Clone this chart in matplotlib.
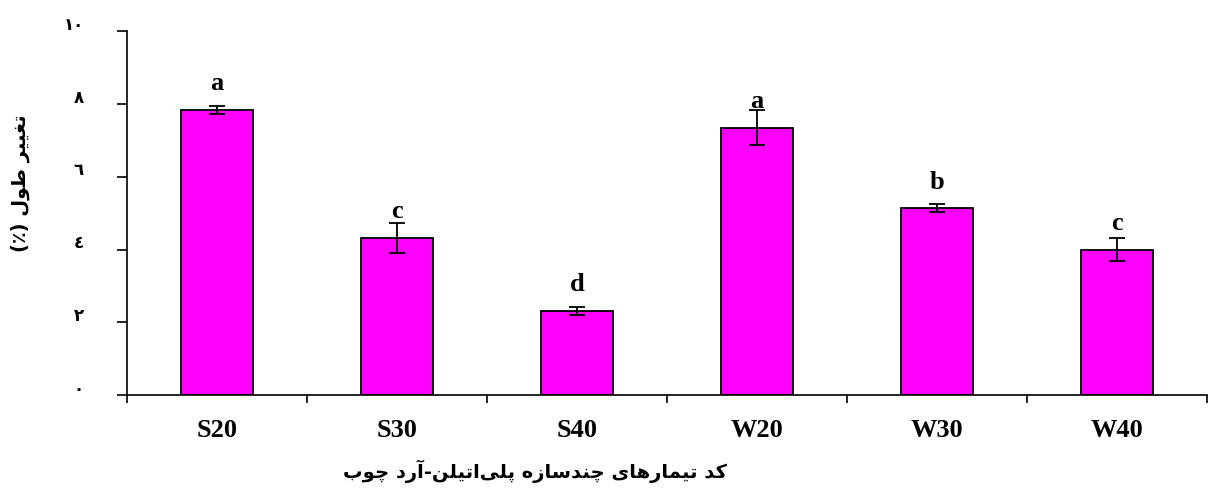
#!/usr/bin/env python3
"""Length change of polyethylene / wood-flour composites, bar chart with Duncan letters."""

import matplotlib

matplotlib.use("Agg")
import matplotlib.pyplot as plt
import numpy as np
from matplotlib.transforms import ScaledTranslation


treatments = ["S20", "S30", "S40", "W20", "W30", "W40"]
length_change = [7.83, 4.32, 2.31, 7.35, 5.13, 4.00]
length_err = [0.10, 0.42, 0.10, 0.48, 0.11, 0.31]
group_letters = ["a", "c", "d", "a", "b", "c"]
y_ticks = [0, 2, 4, 6, 8, 10]

y_label = "تغییر طول (٪)"
x_label = "کد تیمارهای چندسازه پلی\u200cاتیلن-آرد چوب"


# contextual forms (isolated, final, initial, medial); two entries = joins only to the right
ARABIC_FORMS = {
    "ا": (0xFE8D, 0xFE8E), "آ": (0xFE81, 0xFE82), "د": (0xFEA9, 0xFEAA),
    "ر": (0xFEAD, 0xFEAE), "ز": (0xFEAF, 0xFEB0), "و": (0xFEED, 0xFEEE),
    "ب": (0xFE8F, 0xFE90, 0xFE91, 0xFE92), "پ": (0xFB56, 0xFB57, 0xFB58, 0xFB59),
    "ت": (0xFE95, 0xFE96, 0xFE97, 0xFE98), "چ": (0xFB7A, 0xFB7B, 0xFB7C, 0xFB7D),
    "س": (0xFEB1, 0xFEB2, 0xFEB3, 0xFEB4), "ط": (0xFEC1, 0xFEC2, 0xFEC3, 0xFEC4),
    "غ": (0xFECD, 0xFECE, 0xFECF, 0xFED0), "ک": (0xFB8E, 0xFB8F, 0xFB90, 0xFB91),
    "ل": (0xFEDD, 0xFEDE, 0xFEDF, 0xFEE0), "م": (0xFEE1, 0xFEE2, 0xFEE3, 0xFEE4),
    "ن": (0xFEE5, 0xFEE6, 0xFEE7, 0xFEE8), "ه": (0xFEE9, 0xFEEA, 0xFEEB, 0xFEEC),
    "ی": (0xFBFC, 0xFBFD, 0xFBFE, 0xFBFF),
}
MIRROR = {"(": ")", ")": "("}


def shape_rtl(text):
    """Join Persian letters and return them in visual (left-to-right) order."""
    out = []
    for i, ch in enumerate(text):
        if ch == "\u200c":
            continue
        forms = ARABIC_FORMS.get(ch)
        if forms is None:
            out.append(MIRROR.get(ch, ch))
            continue
        prev = text[i - 1] if i > 0 else ""
        nxt = text[i + 1] if i + 1 < len(text) else ""
        joins_prev = len(ARABIC_FORMS.get(prev, ())) == 4
        joins_next = len(forms) == 4 and nxt in ARABIC_FORMS
        if joins_prev and joins_next:
            code = forms[3]
        elif joins_prev:
            code = forms[1]
        elif joins_next:
            code = forms[2]
        else:
            code = forms[0]
        out.append(chr(code))
    return "".join(reversed(out))


def arabic_digits(value):
    return "".join(chr(0x0660 + int(d)) for d in str(value))


plt.rcParams["font.family"] = ["Liberation Serif", "DejaVu Sans"]

fig = plt.figure(figsize=(12.08, 4.94), dpi=100)
ax = fig.add_axes([0.105, 0.2, 0.894, 0.737])

x = np.arange(len(treatments))
ax.bar(x, length_change, width=0.4, color="#ff00ff", edgecolor="black", linewidth=1.3, zorder=2)
ax.errorbar(x, length_change, yerr=length_err, fmt="none", ecolor="black",
            elinewidth=1.3, capsize=6, capthick=1.3, zorder=3)

for xi, val, letter in zip(x, length_change, group_letters):
    ax.text(xi, val + 0.72, letter, ha="center", va="center",
            fontsize=19, fontweight="bold", zorder=4)

ax.set_xlim(-0.5, len(treatments) - 0.5)
ax.set_ylim(0, 10)
ax.set_xticks(x)
ax.set_xticklabels(treatments, fontsize=19, fontweight="bold")
ax.set_xticks(np.arange(-0.5, len(treatments)), minor=True)
ax.tick_params(axis="x", which="major", length=0, pad=17)
ax.tick_params(axis="x", which="minor", length=6, width=1.2, direction="out")

ax.set_yticks(y_ticks)
ax.set_yticklabels([arabic_digits(v) for v in y_ticks], fontsize=12,
                   fontweight="bold", family="DejaVu Sans")
ax.tick_params(axis="y", length=7, width=1.2, direction="out", pad=24)
nudge = ScaledTranslation(0, 6 / 72, fig.dpi_scale_trans)
for lbl in ax.get_yticklabels():
    lbl.set_transform(lbl.get_transform() + nudge)

for side in ("top", "right"):
    ax.spines[side].set_visible(False)
ax.spines["left"].set_linewidth(1.2)
ax.spines["bottom"].set_linewidth(1.2)

fig.text(0.017, 0.63, shape_rtl(y_label), rotation=90, ha="center", va="center",
         fontsize=14, fontweight="bold", family="DejaVu Sans")
fig.text(0.443, 0.045, shape_rtl(x_label), ha="center", va="center",
         fontsize=14, fontweight="bold", family="DejaVu Sans")

fig.savefig("out.png", dpi=100)
